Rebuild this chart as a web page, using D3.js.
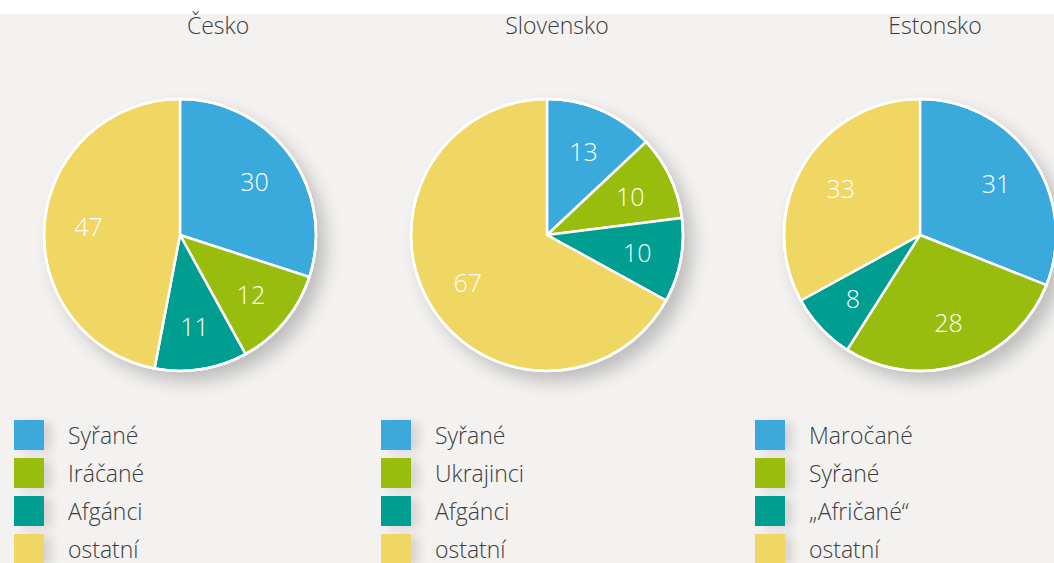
<!DOCTYPE html>
<html>
<head>
<meta charset="utf-8">
<script src="https://cdn.jsdelivr.net/npm/d3@7"></script>
<style>
  body { margin: 0; background: #ffffff; }
  svg { display: block; font-family: "Open Sans", "Noto Sans", sans-serif; font-weight: 300; }
</style>
</head>
<body>
<svg id="chart" width="1054" height="563"></svg>
<script>
// data
var countries = ['Česko', 'Slovensko', 'Estonsko'];
var ceskoLabels = ['Syřané', 'Iráčané', 'Afgánci', 'ostatní'];
var ceskoValues = [30, 12, 11, 47];
var slovenskoLabels = ['Syřané', 'Ukrajinci', 'Afgánci', 'ostatní'];
var slovenskoValues = [13, 10, 10, 67];
var estonskoLabels = ['Maročané', 'Syřané', '„Afričané“', 'ostatní'];
var estonskoValues = [31, 28, 8, 33];
var sliceColours = ['#3aa9dc', '#99bd0e', '#009e91', '#f0d662'];

var panels = [
    { title: countries[0], labels: ceskoLabels, values: ceskoValues, cx: 180, titleX: 218, legendX: 14 },
    { title: countries[1], labels: slovenskoLabels, values: slovenskoValues, cx: 547, titleX: 557, legendX: 381 },
    { title: countries[2], labels: estonskoLabels, values: estonskoValues, cx: 920, titleX: 935, legendX: 755 }
];

var width = 1054, height = 563;
var radius = 136, cy = 235;
var svg = d3.select('#chart');

var defs = svg.append('defs');
var shadow = defs.append('filter').attr('id', 'pieShadow')
    .attr('x', '-30%').attr('y', '-30%').attr('width', '160%').attr('height', '160%');
shadow.append('feGaussianBlur').attr('in', 'SourceAlpha').attr('stdDeviation', 9).attr('result', 'blur');
shadow.append('feOffset').attr('dx', 9).attr('dy', 10).attr('result', 'off');
shadow.append('feComponentTransfer').append('feFuncA').attr('type', 'linear').attr('slope', 0.22);
var merge = shadow.append('feMerge');
merge.append('feMergeNode');
merge.append('feMergeNode').attr('in', 'SourceGraphic');

var boxShadow = defs.append('filter').attr('id', 'boxShadow')
    .attr('x', '-50%').attr('y', '-50%').attr('width', '250%').attr('height', '200%');
boxShadow.append('feGaussianBlur').attr('in', 'SourceAlpha').attr('stdDeviation', 5);
boxShadow.append('feOffset').attr('dx', 8).attr('dy', 2);
boxShadow.append('feComponentTransfer').append('feFuncA').attr('type', 'linear').attr('slope', 0.12);
var merge2 = boxShadow.append('feMerge');
merge2.append('feMergeNode');
merge2.append('feMergeNode').attr('in', 'SourceGraphic');

// background: white strip at the top, light grey below
svg.append('rect').attr('width', width).attr('height', height).attr('fill', '#ffffff');
svg.append('rect').attr('y', 14).attr('width', width).attr('height', height - 14).attr('fill', '#f3f2f1');

var pie = d3.pie().sort(null);
var arc = d3.arc().innerRadius(0).outerRadius(radius);
var labelArc = d3.arc().innerRadius(92).outerRadius(92);
var colour = d3.scaleOrdinal().domain(d3.range(4)).range(sliceColours);

panels.forEach(function (p) {
    svg.append('text')
        .attr('x', p.titleX)
        .attr('y', 34)
        .attr('text-anchor', 'middle')
        .attr('font-size', 23)
        .attr('fill', '#3c3c3c')
        .text(p.title);

    var g = svg.append('g').attr('transform', 'translate(' + p.cx + ',' + cy + ')');
    var arcs = pie(p.values);

    g.append('circle').attr('r', radius + 1).attr('fill', '#ffffff').attr('filter', 'url(#pieShadow)');

    g.selectAll('path.slice')
        .data(arcs)
        .enter()
        .append('path')
        .attr('class', 'slice')
        .attr('d', arc)
        .attr('fill', function (d, i) { return colour(i); })
        .attr('stroke', '#ffffff')
        .attr('stroke-width', 2.5)
        .attr('stroke-linejoin', 'round');

    g.append('circle').attr('r', radius).attr('fill', 'none').attr('stroke', '#ffffff').attr('stroke-width', 2.5);

    g.selectAll('text.value')
        .data(arcs)
        .enter()
        .append('text')
        .attr('class', 'value')
        .attr('transform', function (d) { return 'translate(' + labelArc.centroid(d) + ')'; })
        .attr('text-anchor', 'middle')
        .attr('dominant-baseline', 'central')
        .attr('font-size', 25)
        .attr('fill', '#ffffff')
        .text(function (d) { return d.data; });

    var legend = svg.append('g').attr('transform', 'translate(' + p.legendX + ',420)');
    var item = legend.selectAll('g.item')
        .data(p.labels)
        .enter()
        .append('g')
        .attr('class', 'item')
        .attr('transform', function (d, i) { return 'translate(0,' + (i * 38) + ')'; });
    item.append('rect')
        .attr('width', 30)
        .attr('height', 30)
        .attr('fill', function (d, i) { return colour(i); })
        .attr('filter', 'url(#boxShadow)');
    item.append('text')
        .attr('x', 54)
        .attr('y', 24)
        .attr('font-size', 23)
        .attr('fill', '#3c3c3c')
        .text(function (d) { return d; });
});
</script>
</body>
</html>
